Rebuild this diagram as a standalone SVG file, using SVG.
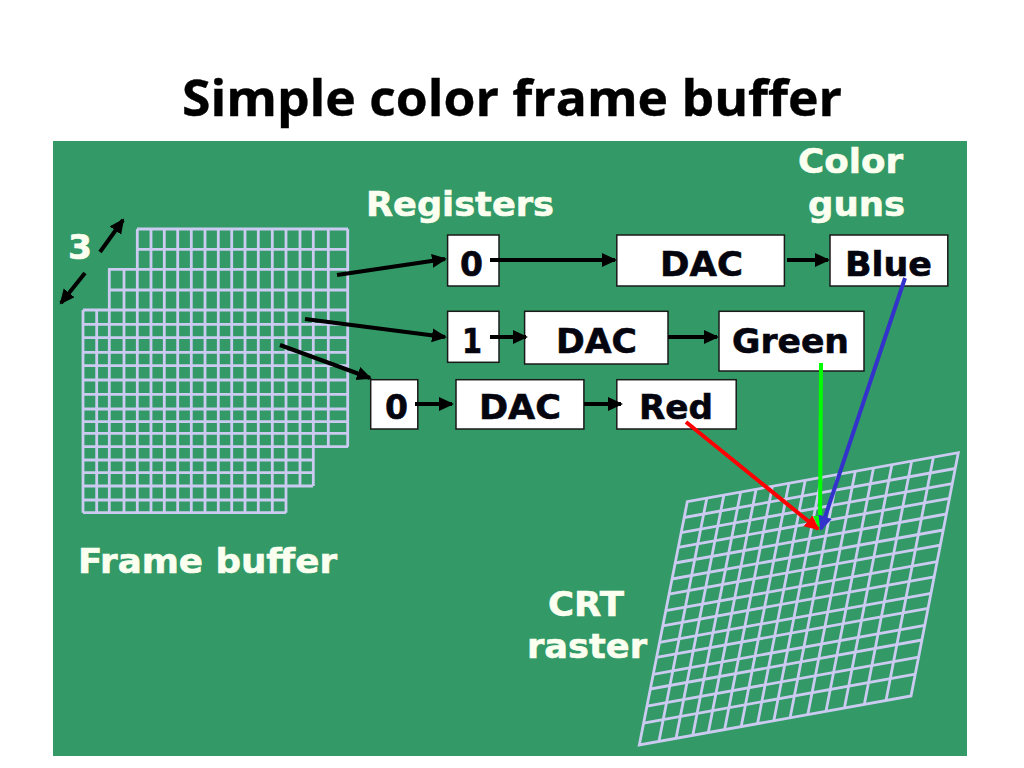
<svg xmlns="http://www.w3.org/2000/svg" width="1024" height="768" viewBox="0 0 1024 768">
<style>
.grid{fill:none;stroke:#cbcbf2;stroke-width:2.8}
.box{fill:#fff;stroke:#1a1a1a;stroke-width:1.5}
.lbl{font-family:"DejaVu Sans",Verdana,sans-serif;font-weight:700;font-size:34px;fill:#fafff0;stroke:#fafff0;stroke-width:.6}
.t{font-family:"DejaVu Sans",Verdana,sans-serif;font-weight:700;font-size:34px;fill:#050510;stroke:#050510;stroke-width:.6}
.title{font-family:"Open Sans","Noto Sans",sans-serif;font-weight:700;font-size:51px;fill:#000;stroke:#000;stroke-width:.4}
.c{fill:none;stroke-width:4}
</style>
<defs>
<marker id="ak" markerUnits="userSpaceOnUse" markerWidth="18" markerHeight="16" refX="13" refY="7" orient="auto"><path d="M0 0L15 7L0 14Z" fill="#000"/></marker>
<marker id="ar" markerUnits="userSpaceOnUse" markerWidth="18" markerHeight="16" refX="13" refY="7" orient="auto"><path d="M0 0L15 7L0 14Z" fill="#f00"/></marker>
<marker id="ag" markerUnits="userSpaceOnUse" markerWidth="18" markerHeight="16" refX="13" refY="7" orient="auto"><path d="M0 0L15 7L0 14Z" fill="#0f0"/></marker>
<marker id="ab" markerUnits="userSpaceOnUse" markerWidth="18" markerHeight="16" refX="13" refY="7" orient="auto"><path d="M0 0L15 7L0 14Z" fill="#3333cc"/></marker>
</defs>
<rect id="background" x="53" y="141" width="914" height="615" fill="#339966"/>
<text id="title" class="title" x="182" y="116" textLength="660" lengthAdjust="spacingAndGlyphs">Simple color frame buffer</text>
<g id="frame-buffer">
<path class="grid" d="M137 229H348M137 249.300H348M108 269.300H348M108 290H348M83 310H348M83 324.300H348M83 337.700H348M83 352.300H348M83 365.700H348M83 380H348M83 394.300H348M83 409H348M83 421.700H348M83 433.300H348M83 446.700H348M83 460H313M83 472.700H313M83 486H313M83 500H286M83 512.700H286"/>
<path class="grid" d="M83 310V512.700M96.700 310V512.700M109.300 269.300V512.700M124 269.300V512.700M137.300 229V512.700M151 229V512.700M164.300 229V512.700M177.700 229V512.700M191.300 229V512.700M205 229V512.700M218.300 229V512.700M231.700 229V512.700M245 229V512.700M258.300 229V512.700M272.300 229V512.700M286 229V512.700M300 229V486M313.300 229V486M328.300 229V446.700M347.700 229V446.700"/>
</g>
<g id="crt-raster">
<path class="grid" d="M687.300 501.700L958.300 452.700L911 696L639.300 745Z"/>
<path class="grid" d="M706.800 498.200L658.900 741.500M723.900 495.100L676 738.400M740.700 492L692.800 735.300M756.100 489.300L708.300 732.600M772.400 486.300L724.600 729.600M788.900 483.300L741.200 726.600M805.200 480.400L757.500 723.700M821.400 477.400L773.800 720.700M837.700 474.500L790.100 717.800M855.300 471.300L807.800 714.600M873.500 468L826 711.300M891.900 464.700L844.400 708M911.700 461.100L864.300 704.400M933.400 457.200L886 700.500"/>
<path class="grid" d="M684.200 517.500L955.200 468.500M681.200 532.600L952.300 483.600M678.300 547.400L949.400 498.400M675.200 563L946.400 514M672 579L943.300 530M669 594.200L940.300 545.200M665.800 610.700L937.100 561.700M662.800 625.800L934.200 576.800M659.600 642.300L931 593.300M656.600 657.400L928 608.400M653.200 674.400L924.700 625.400M650.300 689L921.900 640M647 706.100L918.600 657.100M643.600 723.100L915.300 674.100"/>
</g>
<g id="reg-0-top"><rect class="box" x="447.600" y="235" width="51.400" height="51"/><text class="t" x="460" y="276" textLength="23" lengthAdjust="spacingAndGlyphs">0</text></g>
<g id="dac-blue"><rect class="box" x="616.800" y="235" width="167.600" height="51"/><text class="t" x="660" y="276" textLength="83" lengthAdjust="spacingAndGlyphs">DAC</text></g>
<g id="gun-blue"><rect class="box" x="830" y="235" width="117.800" height="51"/><text class="t" x="845" y="276" textLength="87" lengthAdjust="spacingAndGlyphs">Blue</text></g>
<g id="reg-1"><rect class="box" x="447.600" y="311.300" width="51.400" height="51"/><text class="t" x="462" y="353" textLength="20" lengthAdjust="spacingAndGlyphs">1</text></g>
<g id="dac-green"><rect class="box" x="524.600" y="311.300" width="143.400" height="52.700"/><text class="t" x="556" y="353" textLength="81" lengthAdjust="spacingAndGlyphs">DAC</text></g>
<g id="gun-green"><rect class="box" x="719" y="311.300" width="145" height="59.700"/><text class="t" x="732" y="353" textLength="117" lengthAdjust="spacingAndGlyphs">Green</text></g>
<g id="reg-0-bottom"><rect class="box" x="370.700" y="379.700" width="47.100" height="49.300"/><text class="t" x="385" y="419" textLength="23" lengthAdjust="spacingAndGlyphs">0</text></g>
<g id="dac-red"><rect class="box" x="456" y="379.700" width="127.900" height="49.300"/><text class="t" x="479" y="419" textLength="82" lengthAdjust="spacingAndGlyphs">DAC</text></g>
<g id="gun-red"><rect class="box" x="616.800" y="379.700" width="119.400" height="49.300"/><text class="t" x="639" y="419" textLength="74" lengthAdjust="spacingAndGlyphs">Red</text></g>
<g id="connectors">
<path class="c" stroke="#000" marker-end="url(#ak)" d="M100 252L123 220"/>
<path class="c" stroke="#000" marker-end="url(#ak)" d="M85 273L61 303"/>
<path class="c" stroke="#000" marker-end="url(#ak)" d="M337 275L445 259"/>
<path class="c" stroke="#000" marker-end="url(#ak)" d="M305 319L445 337"/>
<path class="c" stroke="#000" marker-end="url(#ak)" d="M280 345L370 378"/>
<path class="c" stroke="#000" marker-end="url(#ak)" d="M490 260H615"/>
<path class="c" stroke="#000" marker-end="url(#ak)" d="M787 260H828"/>
<path class="c" stroke="#000" marker-end="url(#ak)" d="M490 337H526"/>
<path class="c" stroke="#000" marker-end="url(#ak)" d="M668 337H717"/>
<path class="c" stroke="#000" marker-end="url(#ak)" d="M415 404H452"/>
<path class="c" stroke="#000" marker-end="url(#ak)" d="M584 404H621"/>
<path class="c" stroke="#0f0" marker-end="url(#ag)" d="M821 363L820 529"/>
<path class="c" stroke="#3333cc" marker-end="url(#ab)" d="M905 278L821 529"/>
<path class="c" stroke="#f00" marker-end="url(#ar)" d="M686 422L818 529"/>
</g>
<g id="labels">
<text class="lbl" x="68" y="259" textLength="24" lengthAdjust="spacingAndGlyphs">3</text>
<text class="lbl" x="366" y="216" textLength="188" lengthAdjust="spacingAndGlyphs">Registers</text>
<text class="lbl" x="798" y="173" textLength="105" lengthAdjust="spacingAndGlyphs">Color</text>
<text class="lbl" x="808" y="216" textLength="97" lengthAdjust="spacingAndGlyphs">guns</text>
<text class="lbl" x="78" y="573" textLength="259" lengthAdjust="spacingAndGlyphs">Frame buffer</text>
<text class="lbl" x="548" y="616" textLength="76" lengthAdjust="spacingAndGlyphs">CRT</text>
<text class="lbl" x="527" y="658" textLength="120" lengthAdjust="spacingAndGlyphs">raster</text>
</g>
</svg>
